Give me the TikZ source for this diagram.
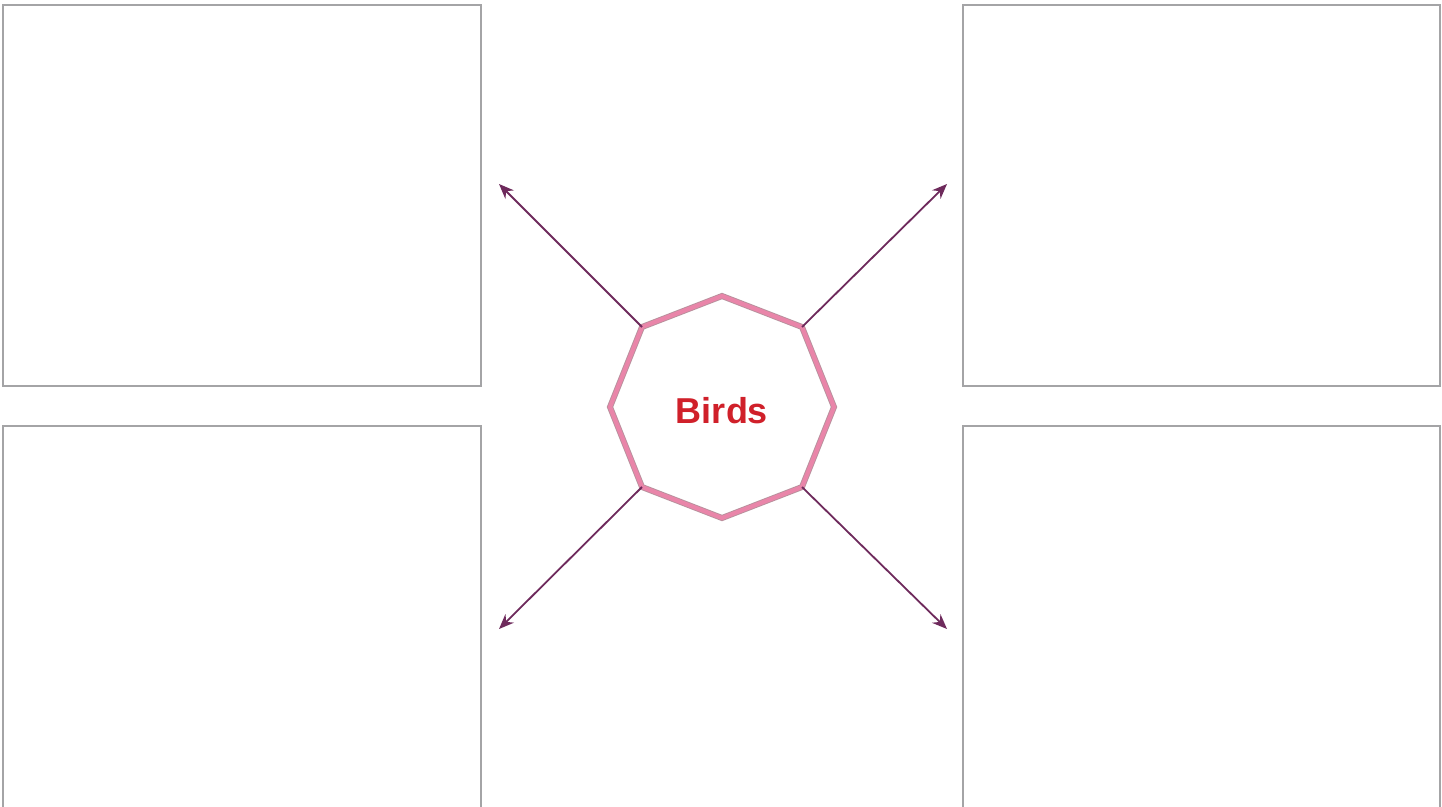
\documentclass[tikz,border=0pt]{standalone}
\usepackage{fontspec}
\setmainfont{Liberation Sans}
\usetikzlibrary{arrows.meta}
\definecolor{boxgray}{HTML}{A4A4A6}
\definecolor{octpink}{HTML}{E985A9}
\definecolor{octedge}{HTML}{B8909C}
\definecolor{arrowpurple}{HTML}{6E2A5C}
\definecolor{birdred}{HTML}{D0202A}
\tikzset{
  panel/.style={draw=boxgray, line width=2pt},
  spoke/.style={draw=arrowpurple, line width=1.8pt, -{Stealth[length=15pt,width=12pt]}},
}
\begin{document}
\begin{tikzpicture}[x=1pt,y=-1pt]
\useasboundingbox (0,0) rectangle (1442,806);
\fill[white] (0,0) rectangle (1442,806);
\begin{scope}
\clip (0,0) rectangle (1442,806);
\draw[panel] (3,5) rectangle (481,386);
\draw[panel] (963,5) rectangle (1440,386);
\draw[panel] (3,426) rectangle (481,830);
\draw[panel] (963,426) rectangle (1440,830);
\end{scope}
% octagon corners
\coordinate (n)  at (722,296);
\coordinate (ne) at (802,327);
\coordinate (e)  at (834,407);
\coordinate (se) at (802,487);
\coordinate (s)  at (722,518);
\coordinate (sw) at (642,487);
\coordinate (w)  at (610,407);
\coordinate (nw) at (642,327);
\draw[octedge, line width=6pt, line join=miter] (n)--(ne)--(e)--(se)--(s)--(sw)--(w)--(nw)--cycle;
\draw[octpink, line width=4.2pt, line join=miter] (n)--(ne)--(e)--(se)--(s)--(sw)--(w)--(nw)--cycle;
\node[text=birdred, font=\fontsize{36}{40}\selectfont\bfseries] (birds) at (722,411) {Birds};
% arrow tips
\coordinate (tnw) at (499,184);
\coordinate (tne) at (947,184);
\coordinate (tsw) at (499,629);
\coordinate (tse) at (947,629);
\draw[spoke] (nw) -- (tnw);
\draw[spoke] (ne) -- (tne);
\draw[spoke] (sw) -- (tsw);
\draw[spoke] (se) -- (tse);
\end{tikzpicture}
\end{document}
